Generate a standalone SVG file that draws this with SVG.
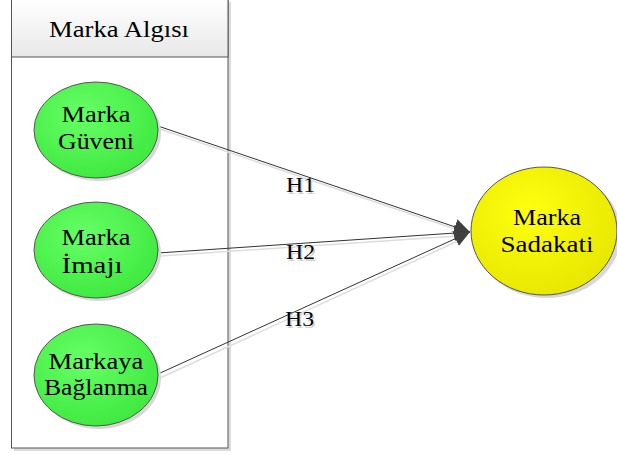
<svg xmlns="http://www.w3.org/2000/svg" width="617" height="454" viewBox="0 0 617 454">
<defs>
<linearGradient id="hdr" x1="0" y1="0" x2="0" y2="1"><stop offset="0" stop-color="#ffffff"/><stop offset="1" stop-color="#e8e8e8"/></linearGradient>
<radialGradient id="grn" cx="0.4" cy="0.35" r="0.7"><stop offset="0" stop-color="#66ff66"/><stop offset="1" stop-color="#3ee83e"/></radialGradient>
<radialGradient id="yel" cx="0.4" cy="0.35" r="0.7"><stop offset="0" stop-color="#ffff10"/><stop offset="1" stop-color="#e6e600"/></radialGradient>
<marker id="arr" viewBox="0 0 10 10" refX="10" refY="5" markerWidth="16" markerHeight="16" markerUnits="userSpaceOnUse" orient="auto"><path d="M0,0 L10,5 L0,10 Z" fill="#404040"/></marker>
<style>
.t{font-family:"Liberation Serif","Times New Roman",serif;font-size:22.5px;fill:#000;text-anchor:middle}
.h{font-family:"Liberation Serif","Times New Roman",serif;font-size:22px;text-anchor:start}
.e{stroke:#555;stroke-width:1}
.sh{fill:#d8d8d8}
.c{stroke:#333;stroke-width:1;fill:none}
.cs{stroke:#ddd;stroke-width:1.5;fill:none}
</style>
</defs>
<g id="group">
<rect x="14" y="2" width="217" height="449" fill="#dcdcdc"/>
<rect x="11.5" y="-1" width="216.5" height="449" fill="#fff" stroke="#555" stroke-width="1"/>
<rect x="11.5" y="-1" width="216.5" height="58" fill="url(#hdr)" stroke="#555" stroke-width="1"/>
<text class="t" x="119" y="37" textLength="140" lengthAdjust="spacingAndGlyphs">Marka Algısı</text>
</g>
<g id="connectors">
<line class="cs" x1="160" y1="129" x2="458" y2="230"/>
<line class="cs" x1="160" y1="256" x2="458" y2="236"/>
<line class="cs" x1="160" y1="378" x2="458" y2="241"/>
<line class="c" x1="158" y1="126" x2="470" y2="232" marker-end="url(#arr)"/>
<line class="c" x1="158" y1="253" x2="470" y2="232" marker-end="url(#arr)"/>
<line class="c" x1="158" y1="374" x2="470" y2="232" marker-end="url(#arr)"/>
<text class="h" x="287.5" y="193.5" fill="#d0d0d0" textLength="29" lengthAdjust="spacingAndGlyphs">H1</text>
<text class="h" x="286" y="192" fill="#000" textLength="29" lengthAdjust="spacingAndGlyphs">H1</text>
<text class="h" x="287.5" y="260.5" fill="#d0d0d0" textLength="29" lengthAdjust="spacingAndGlyphs">H2</text>
<text class="h" x="286" y="259" fill="#000" textLength="29" lengthAdjust="spacingAndGlyphs">H2</text>
<text class="h" x="286.5" y="327.5" fill="#d0d0d0" textLength="29" lengthAdjust="spacingAndGlyphs">H3</text>
<text class="h" x="285" y="326" fill="#000" textLength="29" lengthAdjust="spacingAndGlyphs">H3</text>
</g>
<g id="marka-guveni">
<ellipse class="sh" cx="99" cy="133" rx="62" ry="48"/>
<ellipse class="e" cx="96" cy="130" rx="62" ry="48" fill="url(#grn)"/>
<text class="t" x="96" y="122" textLength="69" lengthAdjust="spacingAndGlyphs">Marka</text>
<text class="t" x="96" y="149" textLength="76" lengthAdjust="spacingAndGlyphs">Güveni</text>
</g>
<g id="marka-imaji">
<ellipse class="sh" cx="99" cy="253" rx="62" ry="48"/>
<ellipse class="e" cx="96" cy="250" rx="62" ry="48" fill="url(#grn)"/>
<text class="t" x="96" y="245" textLength="69" lengthAdjust="spacingAndGlyphs">Marka</text>
<text class="t" x="92" y="273" textLength="61" lengthAdjust="spacingAndGlyphs">İmajı</text>
</g>
<g id="markaya-baglanma">
<ellipse class="sh" cx="99" cy="378" rx="62" ry="51"/>
<ellipse class="e" cx="96" cy="375" rx="62" ry="51" fill="url(#grn)"/>
<text class="t" x="96" y="369" textLength="95" lengthAdjust="spacingAndGlyphs">Markaya</text>
<text class="t" x="96" y="395" textLength="104" lengthAdjust="spacingAndGlyphs">Bağlanma</text>
</g>
<g id="marka-sadakati">
<ellipse class="sh" cx="547" cy="234" rx="74" ry="64"/>
<ellipse class="e" cx="544" cy="231" rx="73" ry="64" fill="url(#yel)"/>
<text class="t" x="547" y="225" textLength="68" lengthAdjust="spacingAndGlyphs">Marka</text>
<text class="t" x="547" y="252" textLength="93" lengthAdjust="spacingAndGlyphs">Sadakati</text>
</g>
</svg>
